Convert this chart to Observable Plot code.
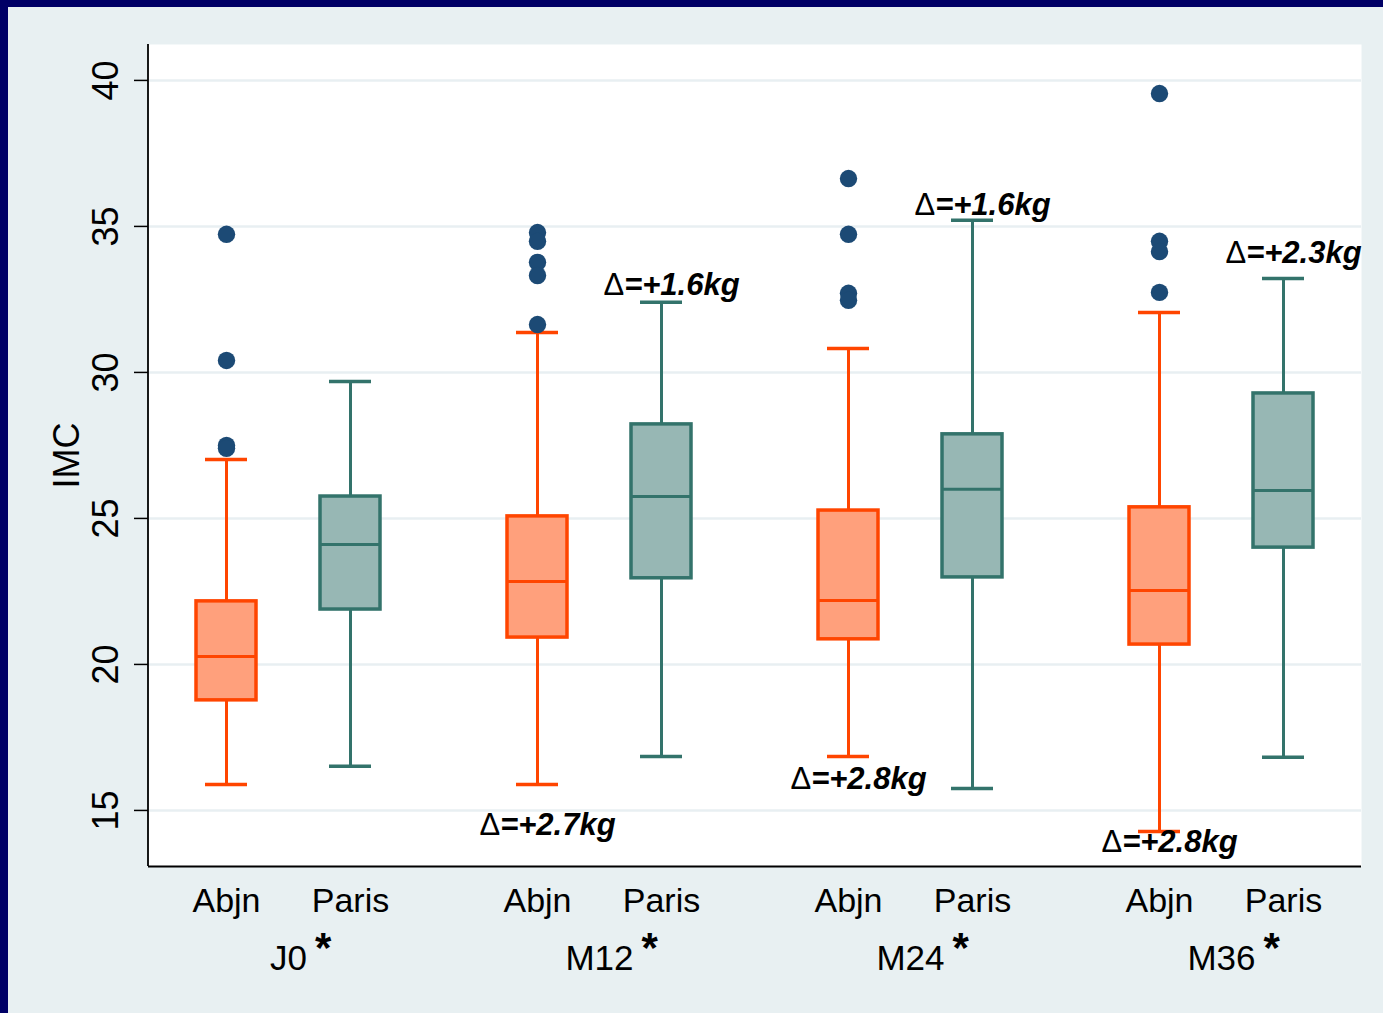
<!DOCTYPE html>
<html>
<head>
<meta charset="utf-8">
<script src="https://cdn.jsdelivr.net/npm/d3@7"></script>
<script src="https://cdn.jsdelivr.net/npm/@observablehq/plot@0.6"></script>
<style>
  html, body { margin: 0; padding: 0; background: #000066; width: 1383px; height: 1013px; overflow: hidden; }
  #panel { position: absolute; left: 8px; top: 7px; width: 1375px; height: 1006px; background: #e8f0f2; }
  #panel svg { display: block; position: absolute; left: 0; top: 0; }
</style>
</head>
<body>
<div id="panel"></div>
<script>
// ---- Data ----
const groups = ["J0", "M12", "M24", "M36"];
const cities = ["Abjn", "Paris"];
const yTicks = [15, 20, 25, 30, 35, 40];

const abjnLow    = [15.89, 15.89, 16.85, 14.28];
const abjnQ1     = [18.77, 20.92, 20.86, 20.68];
const abjnMedian = [20.27, 22.84, 22.19, 22.53];
const abjnQ3     = [22.16, 25.07, 25.27, 25.38];
const abjnHigh   = [27.02, 31.37, 30.82, 32.05];

const parisLow    = [16.51, 16.85, 15.75, 16.82];
const parisQ1     = [21.88, 22.95, 22.98, 24.00];
const parisMedian = [24.11, 25.75, 26.00, 25.96];
const parisQ3     = [25.75, 28.22, 27.88, 29.28];
const parisHigh   = [29.69, 32.40, 35.21, 33.22];

const abjnOutliers = [
  [34.73, 30.41, 27.50, 27.40],
  [34.79, 34.49, 33.77, 33.32, 31.64],
  [36.64, 34.73, 32.71, 32.47],
  [39.55, 34.49, 34.14, 32.74]
];

const deltaGroups = ["M12", "M12", "M24", "M24", "M36", "M36"];
const deltaCities = ["Abjn", "Paris", "Abjn", "Paris", "Abjn", "Paris"];
const deltaLabels = ["Δ=+2.7kg", "Δ=+1.6kg", "Δ=+2.8kg", "Δ=+1.6kg", "Δ=+2.8kg", "Δ=+2.3kg"];
const deltaY      = [14.49, 33.00, 16.06, 35.72, 13.90, 34.08];

const yLabel = "IMC";
const starText = "*";

// ---- Tables built from the arrays ----
const boxes = groups.flatMap((g, i) => [
  {time: g, city: "Abjn", low: abjnLow[i], q1: abjnQ1[i], median: abjnMedian[i], q3: abjnQ3[i], high: abjnHigh[i]},
  {time: g, city: "Paris", low: parisLow[i], q1: parisQ1[i], median: parisMedian[i], q3: parisQ3[i], high: parisHigh[i]}
]);
const outliers = groups.flatMap((g, i) => abjnOutliers[i].map(v => ({time: g, city: "Abjn", value: v})));
const deltas = deltaLabels.map((t, i) => ({time: deltaGroups[i], city: deltaCities[i], label: t, y: deltaY[i]}));

// ---- Styles / layout ----
const strokeOf = {Abjn: "#ff4500", Paris: "#33736b"};
const fillOf   = {Abjn: "#ffa07c", Paris: "#97b7b4"};
const gridColor = "#e8eff2";
const dotColor = "#1c4a75";
const yDomain = [13.08, 41.23];
const fxFontSize = 35;
const frameOpts = {
  width: 1375, height: 1006,
  marginLeft: 140, marginRight: 22, marginTop: 37, marginBottom: 147,
  style: {fontFamily: "'Liberation Sans', Arial, sans-serif", background: "transparent", color: "#000", overflow: "visible"}
};

// Background layer: plot region, grid, y axis
const back = Plot.plot({
  ...frameOpts,
  y: {domain: yDomain, label: null},
  marks: [
    Plot.frame({fill: "white", stroke: null}),
    Plot.ruleY(yTicks, {stroke: gridColor, strokeWidth: 2.5}),
    Plot.ruleY([yDomain[0]], {stroke: "#000", strokeWidth: 2}),
    Plot.axisY({ticks: yTicks, tickSize: 14, tickFormat: () => "", stroke: "#000", strokeWidth: 1.5}),
    Plot.text(yTicks, {y: d => d, text: d => String(d), frameAnchor: "left", rotate: -90, dx: -42,
      fontSize: 36, textAnchor: "middle", lineAnchor: "middle", fill: "#000"}),
    Plot.text([yLabel], {text: d => d, frameAnchor: "left", rotate: -90, dx: -81,
      fontSize: 36, textAnchor: "middle", lineAnchor: "middle", fill: "#000"})
  ]
});
// left axis line along the plot region's left edge
d3.select(back).append("line")
  .attr("x1", frameOpts.marginLeft).attr("x2", frameOpts.marginLeft)
  .attr("y1", frameOpts.marginTop).attr("y2", frameOpts.height - frameOpts.marginBottom)
  .attr("stroke", "#000").attr("stroke-width", 1.8);

// Foreground layer: faceted boxplots
const chart = Plot.plot({
  ...frameOpts,
  fx: {domain: groups, paddingInner: 0.1, paddingOuter: 0, label: null},
  x: {domain: cities, paddingInner: 0.52, paddingOuter: 0.38, label: null},
  y: {domain: yDomain, label: null, axis: null},
  marks: [
    // whiskers
    Plot.ruleX(boxes, {fx: "time", x: "city", y1: "low", y2: "q1", stroke: d => strokeOf[d.city], strokeWidth: 3}),
    Plot.ruleX(boxes, {fx: "time", x: "city", y1: "q3", y2: "high", stroke: d => strokeOf[d.city], strokeWidth: 3}),
    Plot.tickY(boxes, {fx: "time", x: "city", y: "low", insetLeft: 9, insetRight: 9, stroke: d => strokeOf[d.city], strokeWidth: 3.5}),
    Plot.tickY(boxes, {fx: "time", x: "city", y: "high", insetLeft: 9, insetRight: 9, stroke: d => strokeOf[d.city], strokeWidth: 3.5}),
    // boxes
    Plot.barY(boxes, {fx: "time", x: "city", y1: "q1", y2: "q3", fill: d => fillOf[d.city], stroke: d => strokeOf[d.city], strokeWidth: 3.5}),
    Plot.tickY(boxes, {fx: "time", x: "city", y: "median", stroke: d => strokeOf[d.city], strokeWidth: 3}),
    // outliers
    Plot.dot(outliers, {fx: "time", x: "city", y: "value", r: 8.7, fill: dotColor, stroke: null}),
    // annotations
    Plot.text(deltas, {fx: "time", x: "city", y: "y", text: "label", dx: 10, fontSize: 31, fontWeight: "bold",
      fontStyle: "italic", lineAnchor: "middle", fill: "#000"}),
    // category axes
    Plot.axisX({tickSize: 0, tickPadding: 21, fontSize: 34, label: null, fill: "#000"}),
    Plot.axisFx({anchor: "bottom", tickSize: 0, tickPadding: 79, fontSize: fxFontSize, label: null, fill: "#000"}),
    // significance stars (label text is used only to measure where the label ends)
    Plot.text(groups, {fx: d => d, text: d => d, frameAnchor: "bottom", textAnchor: "start", dy: 95.5,
      fontSize: fxFontSize, fill: "#000"})
  ]
});

const panel = document.getElementById("panel");
panel.appendChild(back);
panel.appendChild(chart);

d3.select(chart).selectAll("text").each(function() {
  const t = this.textContent;
  const sel = d3.select(this);
  const anchor = this.getAttribute("text-anchor") || (this.parentNode && this.parentNode.getAttribute("text-anchor"));
  if (t.startsWith("Δ")) {
    // Δ drawn upright and regular, rest bold italic
    sel.text(null);
    sel.append("tspan").attr("font-style", "normal").attr("font-weight", "normal").text("Δ");
    sel.append("tspan").attr("font-style", "italic").attr("font-weight", "bold").text(t.slice(1));
  } else if (groups.includes(t) && anchor === "start") {
    const w = this.getComputedTextLength();
    sel.text(starText).attr("dx", w / 2 + 8).attr("font-size", 42).attr("font-weight", "bold");
  }
});
</script>
</body>
</html>
